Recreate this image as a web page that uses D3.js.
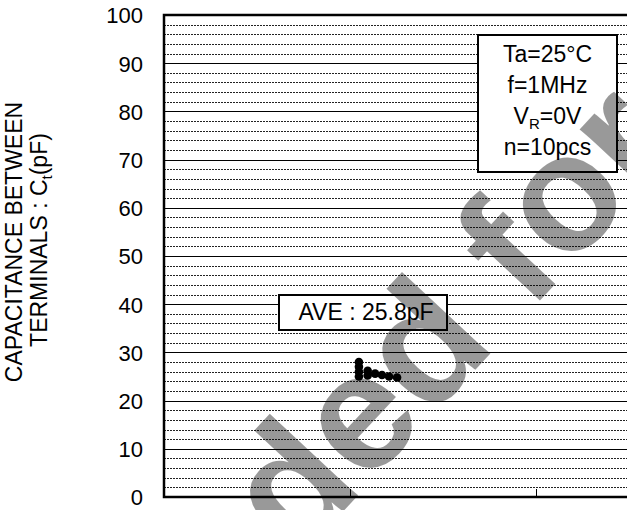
<!DOCTYPE html>
<html><head><meta charset="utf-8">
<script src="https://cdn.jsdelivr.net/npm/d3@7"></script>
<style>html,body{margin:0;padding:0;background:#fff;}svg{display:block;}</style>
</head><body>
<svg id="c" width="627" height="510"></svg>
<script>
// ---- data ----
const yTickValues = [0,10,20,30,40,50,60,70,80,90,100];
const yMinorValues = d3.range(0, 101, 2).filter(v => v % 10 !== 0);
const xTickValues = [1, 2];
const sampleX = [1.048, 1.048, 1.048, 1.048, 1.095, 1.095, 1.135, 1.172, 1.21, 1.253];
const capacitance = [28.0, 27.0, 26.0, 25.0, 26.2, 25.2, 25.6, 25.3, 25.0, 24.8];
const conditionLines = [["Ta=25°C"], ["f=1MHz"], ["V","R","=0V"], ["n=10pcs"]];
const aveLabel = "AVE : 25.8pF";
const yTitle1 = "CAPACITANCE BETWEEN";
const yTitle2 = ["TERMINALS : C", "t", "(pF)"];
const watermark = "Not Recommended for New Design";

// ---- layout ----
const svg = d3.select("#c");
const font = "Arial, 'Liberation Sans', sans-serif";
const x = d3.scaleLinear().domain([0, 3]).range([164, 722]);
const y = d3.scaleLinear().domain([0, 100]).range([497, 15]);

svg.append("rect").attr("width", 627).attr("height", 510).attr("fill", "#fff");

// grid
const g = svg.append("g");
g.selectAll(".minor").data(yMinorValues).join("line")
  .attr("x1", x(0)).attr("x2", x(3))
  .attr("y1", d => Math.round(y(d)) + 0.5).attr("y2", d => Math.round(y(d)) + 0.5)
  .attr("stroke", "#222").attr("stroke-width", 1).attr("stroke-dasharray", "2,1");
g.selectAll(".major").data(yTickValues.filter(v => v > 0 && v < 100)).join("line")
  .attr("x1", x(0)).attr("x2", x(3))
  .attr("y1", d => Math.round(y(d)) + 0.5).attr("y2", d => Math.round(y(d)) + 0.5)
  .attr("stroke", "#000").attr("stroke-width", 1);

// x ticks (inward)
g.selectAll(".xt").data(xTickValues).join("line")
  .attr("x1", d => Math.round(x(d)) + 0.5).attr("x2", d => Math.round(x(d)) + 0.5)
  .attr("y1", y(0)).attr("y2", y(0) - 8)
  .attr("stroke", "#000").attr("stroke-width", 1);

// frame
svg.append("rect").attr("x", x(0)).attr("y", y(100))
  .attr("width", x(3) - x(0)).attr("height", y(0) - y(100))
  .attr("fill", "none").attr("stroke", "#000").attr("stroke-width", 2.5);

// y axis labels
const yAxis = d3.axisLeft(y).tickValues(yTickValues).tickSize(0).tickPadding(0);
const ya = svg.append("g").attr("transform", `translate(143,0)`).call(yAxis);
ya.select(".domain").remove();
ya.selectAll("text").attr("font-family", font).attr("font-size", 22).attr("fill", "#000").attr("dy", "0.36em");

// y title
svg.append("text").attr("transform", "translate(22,242) rotate(-90)")
  .attr("text-anchor", "middle").attr("font-family", font).attr("font-size", 23)
  .text(yTitle1);
const t2 = svg.append("text").attr("transform", "translate(47,240) rotate(-90)")
  .attr("text-anchor", "middle").attr("font-family", font).attr("font-size", 23);
t2.append("tspan").text(yTitle2[0]);
t2.append("tspan").attr("font-size", 15).attr("dy", 5).text(yTitle2[1]);
t2.append("tspan").attr("dy", -5).text(yTitle2[2]);

// conditions box
svg.append("rect").attr("x", 478).attr("y", 35).attr("width", 139).attr("height", 137)
  .attr("fill", "#fff").attr("stroke", "#000").attr("stroke-width", 2);
const lineY = [62, 93, 124, 155];
conditionLines.forEach((parts, i) => {
  const t = svg.append("text").attr("x", 547.5).attr("y", lineY[i])
    .attr("text-anchor", "middle").attr("font-family", font).attr("font-size", 23);
  if (parts.length === 1) t.text(parts[0]);
  else {
    t.append("tspan").text(parts[0]);
    t.append("tspan").attr("font-size", 15).attr("dy", 5).text(parts[1]);
    t.append("tspan").attr("dy", -5).text(parts[2]);
  }
});

// AVE box
svg.append("rect").attr("x", 279).attr("y", 295).attr("width", 168).attr("height", 35)
  .attr("fill", "#fff").attr("stroke", "#000").attr("stroke-width", 2);
svg.append("text").attr("x", 366).attr("y", 320).attr("text-anchor", "middle")
  .attr("font-family", font).attr("font-size", 23).text(aveLabel);

// data points
svg.append("g").selectAll("circle").data(capacitance).join("circle")
  .attr("cx", (d, i) => x(sampleX[i])).attr("cy", d => y(d)).attr("r", 4.3)
  .attr("fill", "#000");

// watermark
const wmSize = 166;
const wm = svg.append("text").attr("font-family", font).attr("font-weight", "bold")
  .attr("font-size", wmSize).attr("fill", "#000").attr("fill-opacity", 0.4).text(watermark);
const oi = watermark.indexOf(" for ") + 2;
const node = wm.node();
const oc = (node.getStartPositionOfChar(oi).x + node.getEndPositionOfChar(oi).x) / 2;
wm.attr("transform", `translate(570,205) rotate(-47) translate(${-oc},${0.26 * wmSize})`);
</script>
</body></html>
